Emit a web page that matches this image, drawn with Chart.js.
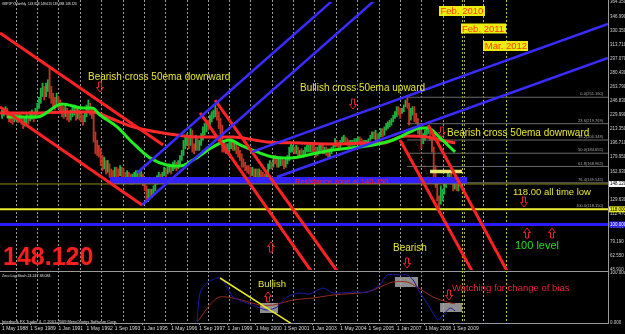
<!DOCTYPE html>
<html>
<head>
<meta charset="utf-8">
<script src="https://cdn.jsdelivr.net/npm/chart.js@4.4.1/dist/chart.umd.min.js"></script>
<style>
  html, body { margin: 0; padding: 0; background: #000; }
  #wrap { position: relative; width: 625px; height: 334px; overflow: hidden; background: #000; }
  #main { position: absolute; left: 0; top: 0; }
  #stoch { position: absolute; left: 0; top: 271px; }
</style>
</head>
<body>
<div id="wrap">
  <canvas id="main" width="625" height="272"></canvas>
  <canvas id="stoch" width="625" height="63"></canvas>
</div>
<script>
// month index 0 = May 1988, one bar per month up to Dec 2009
const firstOpen = 229;
const closes = [
  231, 234, 236, 232, 228, 226, 224, 227,
  229, 226, 228, 224, 221, 223, 226, 224, 229, 230, 227, 232,
  240, 246, 256, 262, 255, 262, 266, 262, 250, 246, 244, 250,
  244, 240, 236, 232, 236, 230, 228, 232, 234, 236, 230, 232,
  230, 226, 224, 228, 236, 240, 236, 232, 204, 192, 190, 186,
  178, 172, 174, 166, 170, 162, 160, 158, 164, 162, 160, 166,
  162, 160, 156, 158, 156, 153, 154, 156, 158, 159, 156, 158,
  152, 144, 134, 138, 136, 138, 142, 150, 154, 158, 156, 160,
  164, 162, 166, 168, 166, 170, 172, 170, 172, 178, 184, 196,
  198, 202, 196, 210, 192, 190, 200, 196, 196, 204, 212, 216,
  220, 218, 226, 230, 232, 236, 232, 224, 216, 196, 192, 188,
  190, 194, 196, 192, 194, 190, 186, 182, 174, 172, 168, 166,
  164, 162, 164, 160, 162, 160, 162, 158, 156, 154, 160, 168,
  172, 170, 178, 176, 172, 174, 176, 174, 172, 174, 178, 190,
  190, 190, 188, 190, 184, 186, 184, 184, 188, 190, 190, 192,
  190, 188, 186, 188, 190, 192, 188, 188, 186, 184, 184, 190,
  194, 198, 196, 192, 198, 200, 204, 202, 198, 196, 198, 198,
  198, 200, 202, 200, 198, 196, 196, 198, 200, 204, 208, 206,
  206, 204, 206, 212, 210, 214, 218, 220, 222, 224, 228, 232,
  238, 236, 232, 236, 240, 246, 244, 234, 234, 238, 230, 226,
  210, 210, 198, 204, 206, 212, 212, 202, 190, 164, 148, 132,
  130, 140, 140, 146, 154, 158, 158, 150, 144, 148, 143.83, 148.12
];
const highs = [
  236, 238, 240, 238, 233, 231, 229, 231,
  233, 232, 232, 230, 227, 228, 231, 229, 234, 236, 232, 238,
  244, 251, 262, 268, 264, 268, 272, 287, 264, 256, 251, 256,
  252, 248, 244, 240, 242, 238, 234, 236, 240, 242, 238, 238,
  236, 234, 230, 234, 242, 248, 244, 238, 234, 210, 200, 194,
  190, 182, 180, 176, 176, 172, 166, 164, 168, 168, 166, 170,
  168, 166, 162, 164, 162, 160, 160, 162, 164, 164, 162, 163,
  160, 154, 146, 142, 142, 142, 146, 154, 158, 162, 160, 162,
  168, 166, 170, 172, 170, 174, 176, 174, 176, 182, 188, 200,
  206, 208, 204, 214, 212, 196, 206, 202, 200, 208, 216, 220,
  224, 224, 230, 234, 236, 244, 238, 234, 226, 218, 200, 196,
  196, 198, 200, 198, 198, 196, 192, 188, 184, 178, 174, 170,
  170, 168, 168, 166, 166, 166, 166, 164, 162, 160, 164, 172,
  176, 174, 182, 182, 178, 178, 180, 178, 176, 178, 182, 192,
  196, 194, 192, 194, 192, 188, 190, 188, 192, 194, 194, 196,
  194, 194, 192, 192, 194, 196, 194, 192, 192, 190, 190, 192,
  196, 202, 200, 198, 200, 204, 206, 204, 202, 200, 200, 200,
  202, 202, 204, 204, 202, 200, 200, 200, 202, 206, 210, 210,
  212, 208, 208, 214, 214, 216, 220, 222, 224, 226, 230, 234,
  240, 240, 238, 238, 242, 248, 251, 244, 238, 240, 240, 232,
  226, 214, 212, 208, 212, 216, 216, 212, 204, 192, 170, 150,
  134, 146, 142, 148, 156, 163, 160, 162, 152, 150, 150, 148.62
];
const lows = [
  226, 229, 231, 227, 222, 221, 219, 222,
  224, 221, 222, 219, 214, 217, 220, 219, 223, 225, 222, 226,
  230, 238, 244, 252, 248, 252, 258, 250, 244, 238, 236, 242,
  238, 234, 228, 226, 228, 224, 222, 224, 228, 230, 224, 226,
  224, 222, 218, 222, 228, 234, 230, 226, 198, 184, 182, 180,
  170, 164, 166, 160, 162, 156, 154, 152, 156, 156, 154, 158,
  156, 154, 150, 152, 150, 148, 148, 150, 152, 153, 150, 152,
  146, 140, 128, 127, 130, 132, 136, 140, 148, 152, 152, 154,
  158, 156, 160, 162, 160, 164, 166, 164, 166, 170, 176, 182,
  190, 194, 190, 194, 186, 184, 188, 188, 188, 194, 200, 206,
  210, 212, 216, 222, 226, 228, 224, 214, 200, 186, 186, 184,
  184, 186, 190, 188, 188, 184, 180, 176, 168, 168, 164, 162,
  160, 156, 158, 156, 156, 154, 156, 154, 152, 150, 152, 156,
  166, 166, 168, 172, 168, 168, 170, 170, 166, 168, 172, 176,
  186, 186, 184, 184, 180, 180, 180, 180, 182, 186, 186, 186,
  186, 184, 180, 182, 184, 188, 184, 184, 182, 180, 180, 184,
  188, 192, 192, 188, 190, 196, 198, 198, 194, 192, 194, 194,
  194, 196, 198, 196, 194, 194, 192, 194, 196, 200, 202, 202,
  200, 200, 202, 204, 204, 206, 212, 214, 216, 218, 222, 226,
  228, 230, 226, 232, 234, 240, 238, 218, 224, 230, 222, 220,
  208, 206, 190, 196, 200, 206, 208, 200, 186, 154, 144, 128,
  118.8, 124, 128, 136, 144, 150, 150, 148, 140, 142, 140, 139.69
];

// moving averages (month, price)
const ema50 = [
  [2.8, 227.7], [19.9, 227.7], [34.1, 243.2], [46.0, 238.4], [51.1, 238.4],
  [55.6, 230.1], [65.3, 215.9], [74.3, 196.8], [84.0, 179.0], [93.6, 170.7],
  [101.0, 169.5], [108.4, 176.6], [119.7, 192.1], [129.4, 200.4], [135.1, 194.5],
  [144.7, 186.2], [153.8, 180.2], [163.5, 179.0], [178.8, 185.0], [187.9, 188.5],
  [197.5, 190.9], [210.6, 194.5], [221.9, 200.4], [231.6, 209.9], [237.2, 214.7],
  [241.8, 214.7], [248.6, 202.8], [257.1, 186.2]
];
const emaSlow = [
  [-1.1, 232.5], [17.6, 232.5], [36.9, 233.7], [51.6, 233.7], [61.3, 226.5],
  [74.3, 215.9], [88.0, 209.9], [99.3, 206.3], [112.4, 203.9], [131.1, 203.9],
  [150.4, 198.0], [169.1, 196.8], [187.9, 195.6], [207.2, 196.8], [216.2, 196.8],
  [225.9, 203.9], [229.9, 205.1], [241.2, 203.9], [248.6, 200.4], [257.1, 196.8]
];

// drawn trend lines, [start, end] as (month, price)
const redLines = [
  [[-1.14, 327.5], [91.4, 194.5]],
  [[-1.14, 239.6], [79.5, 123.2]],
  [[112.4, 232.5], [175.4, 44.8]],
  [[120.9, 247.9], [190.1, 44.8]],
  [[225.9, 200.4], [266.7, 44.8]],
  [[241.8, 218.2], [286.6, 44.8]]
];
const blueLines = [
  [[76.6, 161.2], [187.9, 366.7]],
  [[79.5, 123.2], [211.7, 366.7]],
  [[141.9, 186.2], [343.9, 338.2]],
  [[156.1, 156.4], [343.9, 297.8]]
];
const zigzag = [[231.6, 221.8], [244.6, 138.6]];

const resistanceZone = { from: 61.3, to: 263.9, price: 152.3 };
const yellowBar = { from: 242.9, to: 261.1, price: 163.0 };
const bidPrice = 148.12;
const allTimeLow = 118.0;
const level100 = 100.0;
const fibStart = 229.9;
const fibLevels = [0.0, 23.6, 38.2, 50.0, 61.8, 76.4, 100.0];
const fibPrices = [251.160, 219.769, 200.348, 184.655, 168.962, 149.545, 118.150];

const dateMarks = [261, 273, 286];
const dateNames = ["Feb. 2010", "Feb. 2011", "Mar. 2012"];

const priceTicks = [364.35, 346.99, 330.35, 313.71, 297.07, 280.43, 263.79, 246.83, 229.99,
  213.35, 196.71, 179.95, 162.93, 129.63, 112.47, 96.83, 79.19, 62.55, 45.91];
const tickMonths = [0, 16, 32, 48, 64, 80, 96, 112, 128, 144, 160, 176, 192, 208, 224, 240, 256];
const tickLabels = ["1 May 1988", "1 Sep 1989", "1 Jan 1991", "1 May 1992", "1 Sep 1993", "1 Jan 1995",
  "1 May 1996", "1 Sep 1997", "1 Jan 1999", "1 May 2000", "1 Sep 2001", "1 Jan 2003", "1 May 2004",
  "1 Sep 2005", "1 Jan 2007", "1 May 2008", "1 Sep 2009"];
const gridMonths = [7.8, 19.9, 32.0, 44.1, 56.2, 68.4, 80.5, 92.6, 104.7, 116.8, 128.9, 141.0,
  153.1, 165.2, 177.3, 189.5, 201.6, 213.7, 225.8, 237.9, 250.0, 262.1];

// zero lag stochastic (month, value)
const stochMain = [
  [110.7, 2], [112.4, 60], [116.3, 80], [123.7, 90], [127.7, 72], [131.1, 52], [139.0, 40],
  [146.4, 30], [150.4, 26], [156.1, 32], [161.7, 52], [169.1, 60], [174.8, 58], [182.2, 70],
  [187.9, 60], [199.2, 62], [207.2, 62], [214.5, 76], [218.5, 96], [225.9, 96], [229.9, 96],
  [233.3, 86], [237.2, 60], [241.2, 40], [244.6, 20], [247.4, 6], [250.3, 16], [254.3, 30],
  [257.1, 24.2]
];
const stochSignal = [
  [110.7, 2], [122.0, 50], [131.1, 50], [146.4, 36], [153.8, 36], [165.2, 46], [176.5, 50],
  [187.9, 56], [207.2, 62], [214.5, 72], [221.9, 82], [229.9, 82], [235.5, 72], [244.6, 52],
  [252.6, 42], [257.1, 38.1]
];
const stochTrend = [[123.7, 90], [166.3, -6]];
const stochBoxes = [
  [146.4, 156.6, 20, 40],
  [223.0, 236.1, 72, 92],
  [248.6, 261.1, 22, 40]
];

const xMin = -1.14, xMax = 343.9;
const RED = '#ff2222', BLUE = '#3a2cff', YELLOW = '#e6e632';

function pts(arr) { return arr.map(p => ({ x: p[0], y: p[1] })); }
function lineSet(data, color, width, order, extra) {
  return Object.assign({ type: 'line', data: data, borderColor: color, borderWidth: width,
    pointRadius: 0, fill: false, order: order }, extra || {});
}

function drawArrow(ctx, cx, cy, dir) {
  const top = cy - dir * 5, tip = cy + dir * 5, neck = tip - dir * 4.5;
  ctx.save();
  ctx.strokeStyle = '#e8202a';
  ctx.lineWidth = 1;
  ctx.beginPath();
  ctx.moveTo(cx - 1.5, top); ctx.lineTo(cx - 1.5, neck); ctx.lineTo(cx - 3.5, neck);
  ctx.lineTo(cx, tip); ctx.lineTo(cx + 3.5, neck); ctx.lineTo(cx + 1.5, neck);
  ctx.lineTo(cx + 1.5, top); ctx.closePath();
  ctx.stroke();
  ctx.restore();
}

function drawGrid(chart) {
  const ctx = chart.ctx, area = chart.chartArea, x = chart.scales.x;
  ctx.save();
  ctx.lineWidth = 1;
  ctx.setLineDash([2, 2]);
  ctx.strokeStyle = '#9a9a9a';
  gridMonths.forEach(m => {
    const px = Math.round(x.getPixelForValue(m)) + 0.5;
    ctx.beginPath(); ctx.moveTo(px, area.top - 2); ctx.lineTo(px, area.bottom); ctx.stroke();
  });
  ctx.strokeStyle = '#c8c800';
  dateMarks.forEach(m => {
    const px = Math.round(x.getPixelForValue(m)) + 0.5;
    ctx.beginPath(); ctx.moveTo(px, area.top - 2); ctx.lineTo(px, area.bottom); ctx.stroke();
  });
  ctx.restore();
}

function text(ctx, s, x, y, color, font, align) {
  ctx.fillStyle = color;
  ctx.font = font;
  ctx.textAlign = align || 'left';
  ctx.textBaseline = 'middle';
  ctx.fillText(s, x, y);
}

const mainDecor = {
  id: 'mainDecor',
  beforeDatasetsDraw(chart) { drawGrid(chart); },
  afterDatasetsDraw(chart) {
    const ctx = chart.ctx, x = chart.scales.x, y = chart.scales.y;
    ctx.save();
    // fibonacci labels
    fibLevels.forEach((lv, i) => {
      text(ctx, lv.toFixed(1) + '(' + fibPrices[i].toFixed(3) + ')', 603,
        y.getPixelForValue(fibPrices[i]) - 3, '#a8a8a8', '4px "Liberation Sans"', 'right');
    });
    text(ctx, 'GBPJPY,Monthly  143.828 148.616 139.688 148.120', 2, 4, '#e0e0e0', '3.2px "Liberation Sans"');
    const f10 = '10px "Liberation Sans", Arial';
    text(ctx, 'Bearish cross 50ema downward', 88, 77, YELLOW, f10);
    text(ctx, 'Bullish cross 50ema upward', 300, 88, YELLOW, f10);
    text(ctx, 'Bearish cross 50ema downward', 447, 133, YELLOW, f10);
    text(ctx, '118.00 all time low', 513, 192, YELLOW, '9.5px "Liberation Sans"');
    text(ctx, '100 level', 515, 246, '#22dd22', '11px "Liberation Sans"');
    text(ctx, 'Bearish', 393, 248, YELLOW, f10);
    text(ctx, 'Resistance zone at 140-150', 295, 181.5, '#ff2020', '7.5px "Liberation Sans"');
    text(ctx, '148.120', 3, 258, '#ff1e1e', 'bold 25px "Liberation Sans Narrow", "Liberation Sans"');
    // date boxes
    ctx.font = '9.5px "Liberation Sans"';
    dateNames.forEach((s, i) => {
      const cx = x.getPixelForValue(dateMarks[i]);
      const w = ctx.measureText(s).width + 3;
      const top = 6 + i * 17.5;
      ctx.fillStyle = '#ecec10';
      ctx.fillRect(Math.round(cx - w / 2), top, Math.round(w), 10);
      text(ctx, s, cx, top + 5.5, '#ff3c00', '9.5px "Liberation Sans"', 'center');
    });
    [[100, 87, 1], [353, 104, 1], [442, 132, 1], [524, 202, 1], [407, 263, 1],
     [271, 247, -1], [527, 233, -1], [552, 233, -1]].forEach(a => drawArrow(ctx, a[0], a[1], a[2]));
    ctx.restore();
  },
  afterDraw(chart) {
    const ctx = chart.ctx, area = chart.chartArea, y = chart.scales.y;
    ctx.save();
    ctx.strokeStyle = '#9a9a9a';
    ctx.lineWidth = 1;
    ctx.beginPath();
    ctx.moveTo(area.right + 0.5, 0); ctx.lineTo(area.right + 0.5, 272);
    ctx.moveTo(0, 271.5); ctx.lineTo(area.right, 271.5);
    ctx.stroke();
    const boxes = [[bidPrice, '#ffffff', '#000', '148.120'], [allTimeLow, '#e8e820', '#000', '118.000'],
      [level100, '#2a1cff', '#fff', '100.000']];
    boxes.forEach(b => {
      const py = y.getPixelForValue(b[0]);
      ctx.fillStyle = b[1];
      ctx.fillRect(area.right + 1, py - 3, 16, 6);
      text(ctx, b[3], area.right + 2, py, b[2], '4.5px "Liberation Sans"');
    });
    ctx.restore();
  }
};

const opens = closes.map((c, i) => i === 0 ? firstOpen : closes[i - 1]);
const candleData = closes.map((c, i) => ({ x: i, y: [lows[i], highs[i]] }));
const candleColors = closes.map((c, i) => c >= opens[i] ? '#1fb040' : '#c03424');

const mainSets = [
  { type: 'bar', data: candleData, backgroundColor: candleColors, barThickness: 1.2, grouped: false, order: 20 },
  lineSet(pts([[resistanceZone.from, resistanceZone.price], [resistanceZone.to, resistanceZone.price]]), '#3322ff', 7, 15, { borderCapStyle: 'butt' }),
  lineSet(pts([[xMin, bidPrice], [xMax, bidPrice]]), '#8c8c22', 1, 14),
  lineSet(pts([[xMin, allTimeLow], [xMax, allTimeLow]]), '#ecec30', 2, 13),
  lineSet(pts([[xMin, level100], [xMax, level100]]), '#2a1cff', 3, 13),
  lineSet(pts([[yellowBar.from, yellowBar.price], [yellowBar.to, yellowBar.price]]), '#e8e870', 3.5, 13, { borderCapStyle: 'butt' })
];
fibPrices.forEach(p => mainSets.push(lineSet(pts([[fibStart, p], [xMax, p]]), '#6a6a6a', 1, 16)));
mainSets.push(lineSet(pts(emaSlow), '#ff2a2a', 3, 6, { tension: 0.4, cubicInterpolationMode: 'monotone' }));
mainSets.push(lineSet(pts(ema50), '#22ee22', 3, 5, { tension: 0.4, cubicInterpolationMode: 'monotone' }));
mainSets.push(lineSet(pts(zigzag), '#a01818', 1, 7, { borderDash: [1, 2] }));
redLines.forEach(l => mainSets.push(lineSet(pts(l), RED, 3, 3)));
blueLines.forEach(l => mainSets.push(lineSet(pts(l), BLUE, 2.5, 2)));

new Chart(document.getElementById('main'), {
  data: { datasets: mainSets },
  options: {
    responsive: false,
    animation: false,
    events: [],
    layout: { padding: { top: 2, bottom: 2, left: 0, right: 0 } },
    plugins: { legend: { display: false }, tooltip: { enabled: false } },
    scales: {
      x: { type: 'linear', min: xMin, max: xMax, offset: false, display: false },
      y: {
        position: 'right', min: 45.91, max: 364.35,
        grid: { display: false, drawTicks: false },
        border: { display: false },
        afterBuildTicks: s => { s.ticks = priceTicks.map(v => ({ value: v })); },
        afterFit: s => { s.width = 17; s.paddingTop = 0; s.paddingBottom = 0; },
        ticks: { color: '#d0d0d0', font: { size: 4.5, family: 'Liberation Sans' }, padding: 2,
          callback: v => v.toFixed(3), autoSkip: false }
      }
    }
  },
  plugins: [mainDecor]
});

const stochDecor = {
  id: 'stochDecor',
  beforeDatasetsDraw(chart) {
    drawGrid(chart);
    const ctx = chart.ctx, x = chart.scales.x, y = chart.scales.y;
    ctx.save();
    ctx.fillStyle = 'rgba(175,175,175,0.82)';
    stochBoxes.forEach(b => {
      const x0 = x.getPixelForValue(b[0]), x1 = x.getPixelForValue(b[1]);
      const y0 = y.getPixelForValue(b[3]), y1 = y.getPixelForValue(b[2]);
      ctx.fillRect(x0, y0, x1 - x0, y1 - y0);
    });
    ctx.restore();
  },
  afterDatasetsDraw(chart) {
    const ctx = chart.ctx, off = 271;
    ctx.save();
    text(ctx, 'Zero Lag Stoch 24.247 38.084', 2, 275.5 - off, '#e0e0e0', '3.6px "Liberation Sans"');
    text(ctx, 'Interbank FX Trader 4, \u00a9 2001-2009 MetaQuotes Software Corp.', 2, 321.5 - off, '#e0e0e0', '4px "Liberation Sans"');
    text(ctx, 'Bullish', 258, 284 - off, YELLOW, '9.5px "Liberation Sans"');
    text(ctx, 'Watching for change of bias', 452, 288 - off, '#ee2040', '9.5px "Liberation Sans"');
    drawArrow(ctx, 268, 297 - off, -1);
    drawArrow(ctx, 449, 295 - off, 1);
    ctx.restore();
  },
  afterDraw(chart) {
    const ctx = chart.ctx, area = chart.chartArea;
    ctx.save();
    ctx.strokeStyle = '#9a9a9a';
    ctx.lineWidth = 1;
    ctx.beginPath();
    ctx.moveTo(area.right + 0.5, 0); ctx.lineTo(area.right + 0.5, area.bottom + 1);
    ctx.moveTo(0, area.bottom + 0.5); ctx.lineTo(area.right, area.bottom + 0.5);
    ctx.stroke();
    ctx.restore();
  }
};

new Chart(document.getElementById('stoch'), {
  data: {
    datasets: [
      lineSet(pts(stochTrend), '#e8e820', 1.5, 1),
      lineSet(pts(stochMain), '#1a1aa8', 1, 2, { tension: 0.3 }),
      lineSet(pts(stochSignal), '#9a2a1a', 1, 3, { tension: 0.3 })
    ]
  },
  options: {
    responsive: false,
    animation: false,
    events: [],
    layout: { padding: { top: 2, bottom: 0, left: 0, right: 0 } },
    plugins: { legend: { display: false }, tooltip: { enabled: false } },
    scales: {
      x: {
        type: 'linear', min: xMin, max: xMax,
        grid: { drawOnChartArea: false, drawTicks: true, tickLength: 2, color: '#9a9a9a' },
        border: { display: false },
        afterBuildTicks: s => { s.ticks = tickMonths.map(v => ({ value: v })); },
        afterFit: s => { s.height = 11; s.paddingLeft = 0; s.paddingRight = 0; },
        ticks: { color: '#d8d8d8', font: { size: 5, family: 'Liberation Sans' }, padding: 1,
          align: 'start', maxRotation: 0, autoSkip: false,
          callback: (v, i) => tickLabels[i] }
      },
      y: {
        position: 'right', min: 0, max: 100,
        grid: { display: false, drawTicks: false },
        border: { display: false },
        afterBuildTicks: s => { s.ticks = [{ value: 0 }, { value: 100 }]; },
        afterFit: s => { s.width = 17; s.paddingTop = 0; s.paddingBottom = 0; },
        ticks: { color: '#d0d0d0', font: { size: 4.5, family: 'Liberation Sans' }, padding: 2,
          callback: v => v.toFixed(3), autoSkip: false }
      }
    }
  },
  plugins: [stochDecor]
});
</script>
</body>
</html>
